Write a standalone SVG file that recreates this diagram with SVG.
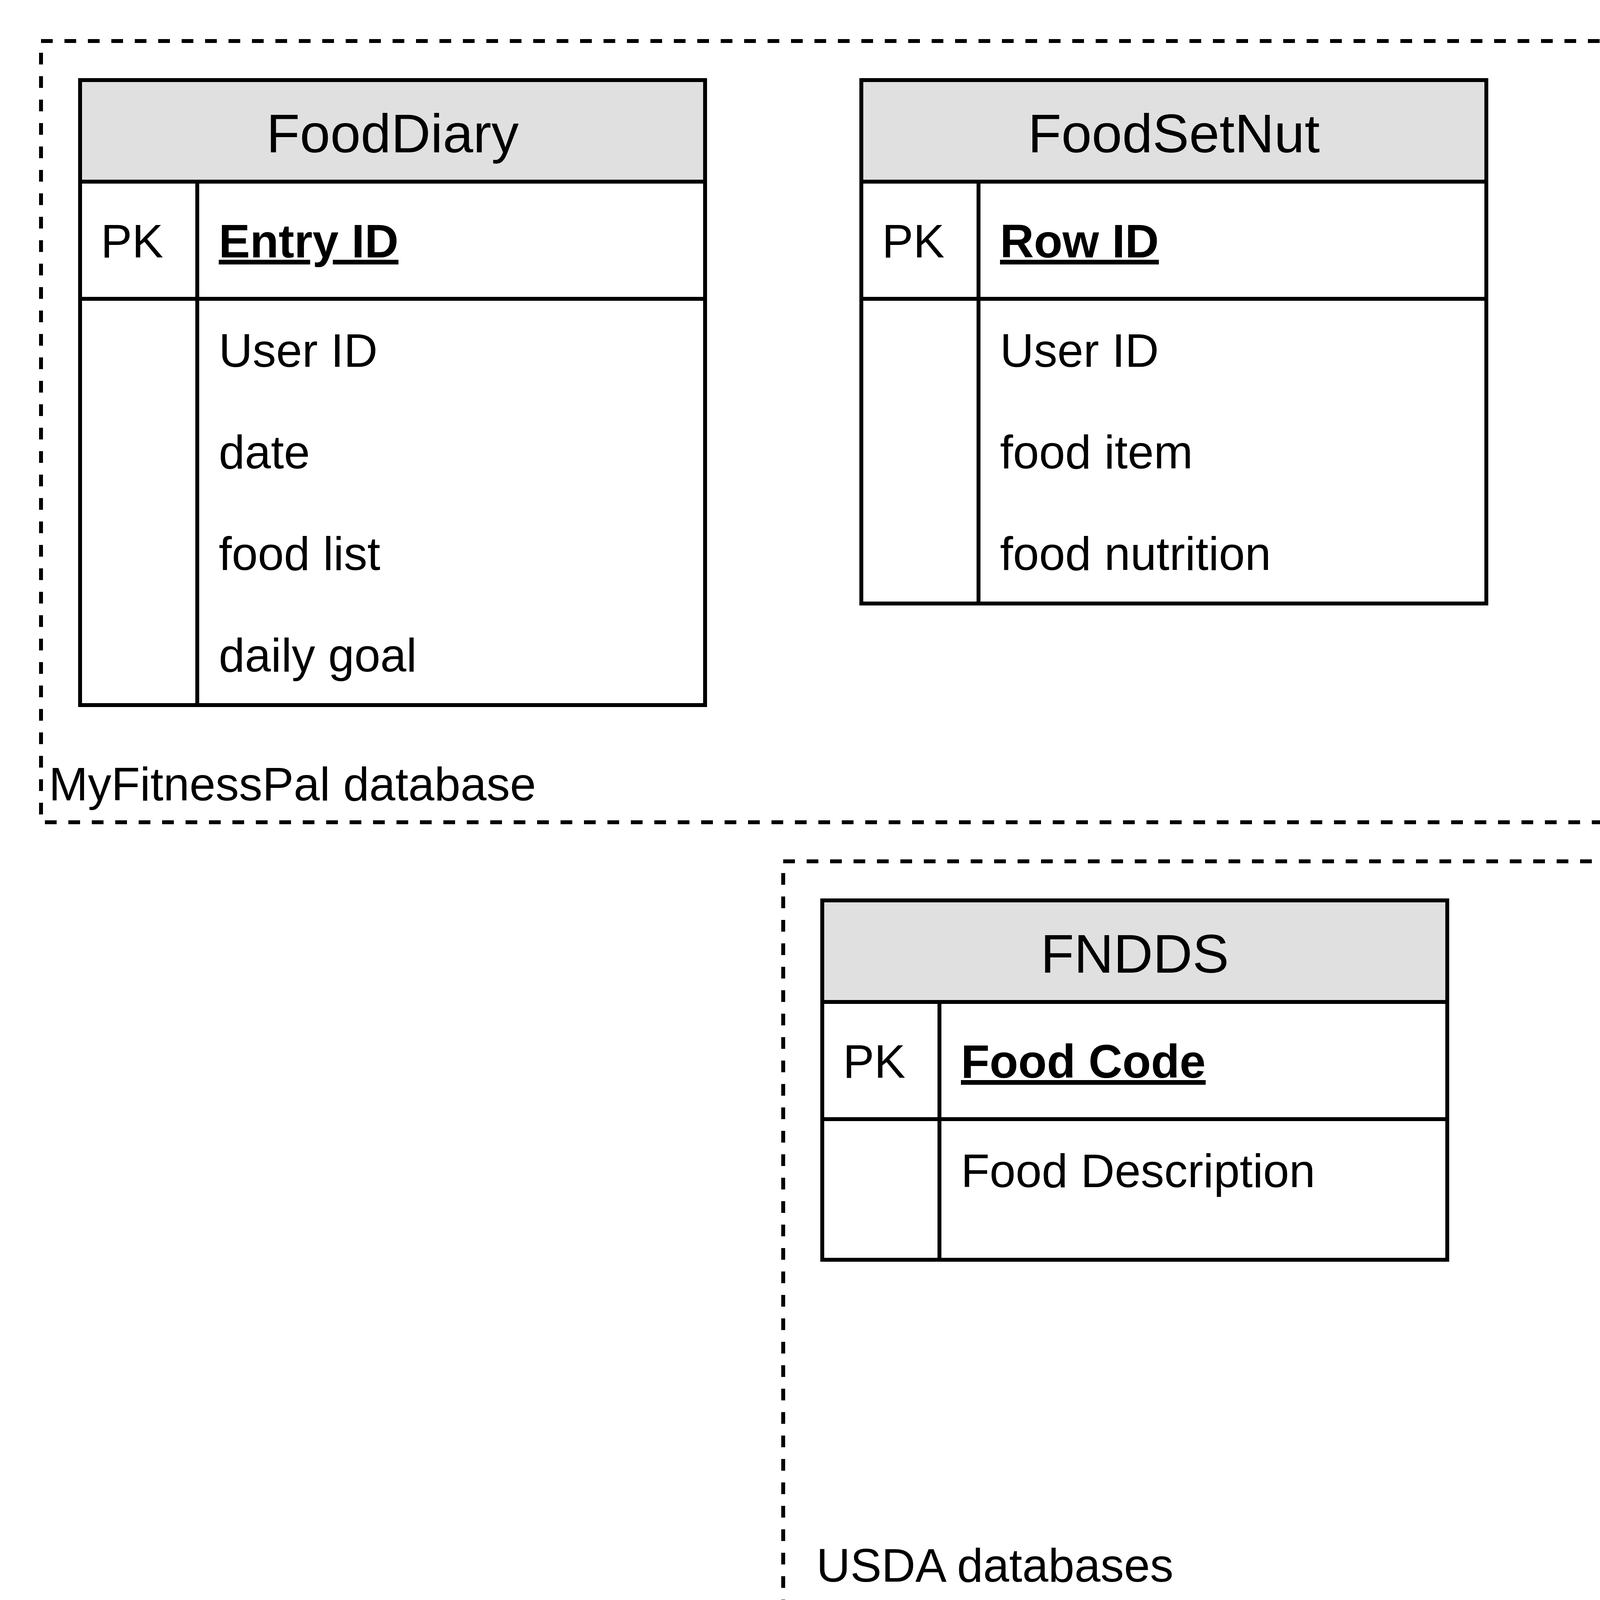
<svg xmlns="http://www.w3.org/2000/svg" width="6010" height="4210" viewBox="0 0 6010 4210">
<style>
  text { font-family: "Liberation Sans", Arial, Helvetica, sans-serif; fill: #000000; }
  .frame { fill: none; stroke: #000000; stroke-width: 10; stroke-dasharray: 30 30; }
  .tbl { fill: #ffffff; stroke: #000000; stroke-width: 10; }
  .hdr { fill: #e0e0e0; stroke: #000000; stroke-width: 10; }
  .ln { stroke: #000000; stroke-width: 10; fill: none; }
  .title { font-size: 140px; text-anchor: middle; }
  .attr { font-size: 120px; }
  .pk { font-size: 120px; font-weight: bold; text-decoration: underline; }
  .lbl { font-size: 120px; }
</style>
<rect width="6010" height="4210" fill="#ffffff"/>

<g id="group-myfitnesspal">
  <rect class="frame" x="105" y="105" width="5800" height="2000"/>
  <text class="lbl" x="125" y="2049">MyFitnessPal database</text>
</g>

<g id="group-usda">
  <rect class="frame" x="2005" y="2205" width="3800" height="1900"/>
  <text class="lbl" x="2090" y="4049">USDA databases</text>
</g>

<g id="FoodDiary">
  <rect class="tbl" x="205" y="205" width="1600" height="1600"/>
  <rect class="hdr" x="205" y="205" width="1600" height="260"/>
  <line class="ln" x1="205" y1="765" x2="1805" y2="765"/>
  <line class="ln" x1="505" y1="465" x2="505" y2="1805"/>
  <text class="title" x="1005" y="390">FoodDiary</text>
  <text class="attr" x="258" y="659">PK</text>
  <text class="pk" x="560" y="659">Entry ID</text>
  <text class="attr" x="560" y="939">User ID</text>
  <text class="attr" x="560" y="1199">date</text>
  <text class="attr" x="560" y="1459">food list</text>
  <text class="attr" x="560" y="1719">daily goal</text>
</g>

<g id="FoodSetNut">
  <rect class="tbl" x="2205" y="205" width="1600" height="1340"/>
  <rect class="hdr" x="2205" y="205" width="1600" height="260"/>
  <line class="ln" x1="2205" y1="765" x2="3805" y2="765"/>
  <line class="ln" x1="2505" y1="465" x2="2505" y2="1545"/>
  <text class="title" x="3005" y="390">FoodSetNut</text>
  <text class="attr" x="2258" y="659">PK</text>
  <text class="pk" x="2560" y="659">Row ID</text>
  <text class="attr" x="2560" y="939">User ID</text>
  <text class="attr" x="2560" y="1199">food item</text>
  <text class="attr" x="2560" y="1459">food nutrition</text>
</g>

<g id="DateFoodSetNut">
  <rect class="tbl" x="4205" y="205" width="1600" height="1600"/>
  <rect class="hdr" x="4205" y="205" width="1600" height="260"/>
  <line class="ln" x1="4205" y1="765" x2="5805" y2="765"/>
  <line class="ln" x1="4505" y1="465" x2="4505" y2="1805"/>
  <text class="title" x="5005" y="390">DateFoodSetNut</text>
  <text class="attr" x="4258" y="659">PK</text>
  <text class="pk" x="4560" y="659">Row ID</text>
  <text class="attr" x="4560" y="939">User ID</text>
  <text class="attr" x="4560" y="1199">date</text>
  <text class="attr" x="4560" y="1459">food item</text>
  <text class="attr" x="4560" y="1719">food nutrition</text>
</g>

<g id="FNDDS">
  <rect class="tbl" x="2105" y="2305" width="1600" height="920"/>
  <rect class="hdr" x="2105" y="2305" width="1600" height="260"/>
  <line class="ln" x1="2105" y1="2865" x2="3705" y2="2865"/>
  <line class="ln" x1="2405" y1="2565" x2="2405" y2="3225"/>
  <text class="title" x="2905" y="2490">FNDDS</text>
  <text class="attr" x="2158" y="2759">PK</text>
  <text class="pk" x="2460" y="2759">Food Code</text>
  <text class="attr" x="2460" y="3039">Food Description</text>
</g>

<g id="FPED">
  <rect class="tbl" x="4105" y="2305" width="1600" height="1340"/>
  <rect class="hdr" x="4105" y="2305" width="1600" height="260"/>
  <line class="ln" x1="4105" y1="2865" x2="5705" y2="2865"/>
  <line class="ln" x1="4405" y1="2565" x2="4405" y2="3645"/>
  <text class="title" x="4905" y="2490">FPED</text>
  <text class="attr" x="4158" y="2759">PK</text>
  <text class="pk" x="4460" y="2759">Food Code</text>
  <text class="attr" x="4460" y="3039">HEI category 1</text>
  <text class="attr" x="4460" y="3299">...</text>
  <text class="attr" x="4460" y="3559">HEI category 13</text>
</g>

<g id="connectors"/>
</svg>
